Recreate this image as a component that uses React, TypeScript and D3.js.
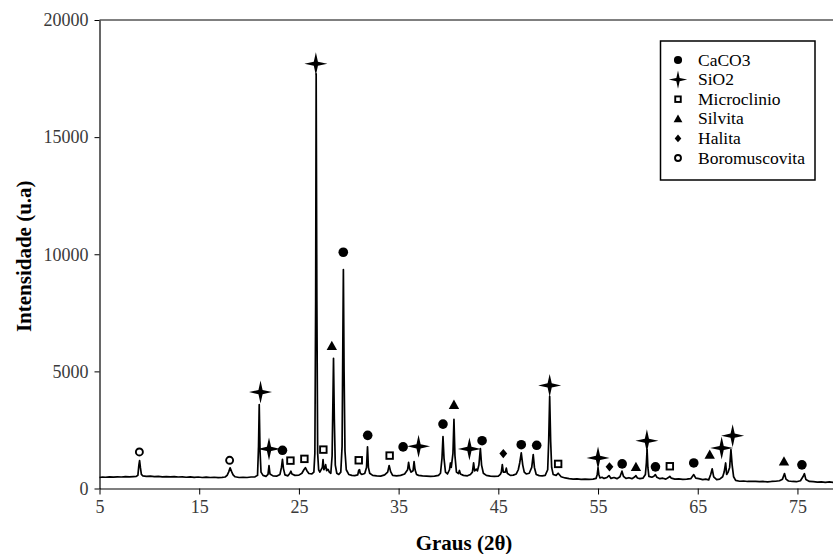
import { useEffect, useRef } from "react";
import * as d3 from "d3";

// difratograma: [2θ, intensidade]
const pattern: [number, number][] = [
  [5, 470], [5.3, 490], [5.6, 480], [6, 495], [6.4, 485], [6.8, 500], [7.2, 490], [7.6, 505], [8, 495], [8.4, 510], [8.7, 520],
  [8.85, 560], [8.95, 1000], [9.02, 1190], [9.1, 900], [9.2, 600], [9.35, 540],
  [9.7, 520], [10.1, 530], [10.5, 510], [10.9, 520], [11.3, 500], [11.7, 510], [12.1, 495], [12.5, 505], [12.9, 490], [13.3, 500],
  [13.7, 480], [14.1, 495], [14.5, 475], [14.9, 490], [15.3, 470], [15.7, 485], [16.1, 470], [16.5, 480], [16.9, 465], [17.3, 475], [17.6, 490],
  [17.8, 560], [17.95, 700], [18.1, 880], [18.25, 720], [18.4, 580], [18.6, 500],
  [19, 470], [19.4, 480], [19.8, 470], [20.2, 490], [20.6, 500], [20.85, 560],
  [20.95, 1800], [21.02, 3580], [21.1, 1600], [21.2, 700], [21.4, 560], [21.7, 520],
  [21.9, 600], [22.0, 980], [22.1, 620], [22.4, 540], [22.8, 530], [23.1, 600],
  [23.25, 900], [23.35, 1240], [23.45, 850], [23.6, 580], [23.9, 540],
  [24.1, 650], [24.2, 740], [24.3, 620], [24.6, 560], [25, 570], [25.3, 650],
  [25.5, 800], [25.65, 890], [25.8, 760], [26.0, 640], [26.3, 620], [26.5, 700],
  [26.6, 1500], [26.68, 8000], [26.73, 17700], [26.8, 8000], [26.88, 1500], [26.98, 800],
  [27.1, 700], [27.35, 900], [27.42, 1230], [27.5, 800], [27.6, 880], [27.68, 1020], [27.78, 760], [27.88, 820], [27.95, 800], [28.05, 700], [28.2, 650],
  [28.33, 1400], [28.42, 4000], [28.47, 5560], [28.55, 3000], [28.65, 1000], [28.8, 650], [29.0, 600], [29.2, 700],
  [29.33, 1800], [29.41, 6500], [29.46, 9350], [29.53, 5000], [29.62, 1600], [29.75, 800], [30, 600], [30.3, 560], [30.6, 550], [30.9, 580],
  [31.0, 780], [31.08, 800], [31.15, 650], [31.3, 600], [31.6, 640],
  [31.78, 900], [31.88, 1780], [31.97, 900], [32.1, 650], [32.4, 560], [32.8, 540], [33.2, 530], [33.6, 580],
  [33.9, 700], [34.05, 980], [34.2, 720], [34.4, 560], [34.8, 540], [35.2, 560], [35.6, 620],
  [35.9, 800], [36.0, 1120], [36.1, 850], [36.25, 700], [36.45, 760], [36.55, 1150], [36.65, 800], [36.8, 600], [37.0, 560],
  [37.4, 540], [37.8, 530], [38.2, 520], [38.6, 530], [39.0, 560], [39.2, 650],
  [39.35, 1300], [39.45, 2220], [39.55, 1300], [39.7, 700], [39.9, 620],
  [40.1, 800], [40.2, 1090], [40.28, 900],
  [40.45, 1500], [40.55, 2950], [40.65, 1400], [40.8, 700], [41.0, 640], [41.1, 770], [41.2, 620], [41.5, 560], [41.9, 540], [42.2, 600],
  [42.4, 700], [42.52, 1100], [42.62, 750], [42.8, 830], [42.9, 750], [43.05, 1000], [43.2, 1700], [43.32, 1000], [43.5, 650],
  [43.8, 560], [44.2, 530], [44.6, 520], [45.0, 530], [45.2, 600],
  [45.3, 700], [45.4, 1020], [45.5, 700], [45.7, 700], [45.8, 870], [45.9, 650], [46.2, 560], [46.5, 570], [46.8, 620],
  [47.0, 800], [47.15, 1100], [47.3, 1520], [47.45, 1000], [47.6, 700], [47.8, 620], [48.1, 650], [48.35, 900], [48.5, 1445], [48.62, 900],
  [48.8, 600], [49.1, 550], [49.4, 540], [49.7, 560], [49.95, 800],
  [50.05, 2000], [50.15, 3930], [50.25, 2000], [50.35, 900], [50.5, 600], [50.8, 560], [51.0, 650], [51.3, 500], [51.7, 450],
  [52.1, 420], [52.5, 400], [52.9, 410], [53.3, 390], [53.7, 400], [54.1, 390], [54.5, 400], [54.8, 430],
  [54.92, 600], [55.0, 880], [55.08, 600], [55.2, 450], [55.4, 480], [55.6, 430], [55.9, 470], [56.1, 550], [56.3, 430],
  [56.6, 470], [56.9, 420], [57.2, 500], [57.4, 740], [57.55, 520], [57.8, 430], [58.1, 460], [58.4, 420], [58.7, 500],
  [58.8, 550], [58.95, 450], [59.2, 420], [59.5, 440], [59.75, 600],
  [59.85, 1100], [59.92, 1660], [60.0, 900], [60.1, 520], [60.4, 480], [60.6, 520], [60.75, 595], [60.9, 480],
  [61.2, 420], [61.5, 440], [61.8, 400], [62.1, 480], [62.2, 520], [62.35, 440], [62.7, 400], [63.1, 410], [63.5, 390],
  [63.9, 400], [64.3, 420], [64.6, 595], [64.8, 440], [65.1, 420], [65.5, 380], [65.8, 400], [66.1, 370],
  [66.3, 600], [66.45, 840], [66.6, 500], [66.9, 380], [67.2, 400], [67.5, 500], [67.65, 700], [67.8, 1090], [67.9, 600],
  [68.05, 700], [68.2, 900], [68.33, 1660], [68.45, 1000], [68.6, 500], [68.8, 350],
  [69.2, 310], [69.6, 320], [70.0, 300], [70.4, 310], [70.8, 300], [71.2, 290], [71.6, 300], [72.0, 280], [72.4, 300],
  [72.8, 310], [73.2, 330], [73.5, 400], [73.7, 640], [73.85, 400], [74.1, 320], [74.5, 300], [74.9, 290],
  [75.3, 330], [75.55, 500], [75.7, 630], [75.85, 380], [76.2, 300], [76.6, 290], [77, 270], [77.4, 285],
  [77.8, 265], [78.2, 280], [78.6, 260], [79, 270], [79.5, 260], [80, 270],
];

// marcadores das fases [2θ, intensidade]
const caco3: [number, number][] = [
  [23.35, 1630], [29.45, 10085], [31.9, 2270], [35.45, 1775], [39.45, 2750], [43.37, 2040],
  [47.3, 1870], [48.85, 1845], [57.42, 1050], [60.76, 925], [64.6, 1090], [75.45, 1010],
];
const sio2: [number, number][] = [
  [26.7, 18130], [21.15, 4115], [22.0, 1690], [37.0, 1800], [42.1, 1690], [50.15, 4400],
  [55.0, 1305], [59.9, 2040], [67.4, 1730], [68.5, 2255],
];
const microclinio: [number, number][] = [
  [24.15, 1190], [25.55, 1265], [27.45, 1660], [31.0, 1205], [34.1, 1405], [51.0, 1050], [62.2, 950],
];
const silvita: [number, number][] = [
  [28.3, 6085], [40.55, 3575], [58.8, 925], [66.2, 1445], [73.65, 1160],
];
const halita: [number, number][] = [[45.5, 1490], [56.15, 925]];
const boromuscovita: [number, number][] = [[9.0, 1560], [18.05, 1205]];

const legendNames = ["CaCO3", "SiO2", "Microclinio", "Silvita", "Halita", "Boromuscovita"];
const xTicks = [5, 15, 25, 35, 45, 55, 65, 75];
const yTicks = [0, 5000, 10000, 15000, 20000];

const font = "'Liberation Serif', 'Times New Roman', serif";

const starPath = (s: number) => {
  const w = s * 0.18;
  return `M0,${-s}L${w},${-w}L${s},0L${w},${w}L0,${s}L${-w},${w}L${-s},0L${-w},${-w}Z`;
};

// desenha um marcador da fase na posição (x, y) em pixels
const drawMarker = (g: any, kind: string, x: number, y: number, scale = 1) => {
  if (kind === "CaCO3") {
    g.append("circle").attr("cx", x).attr("cy", y).attr("r", 4.8 * scale).attr("fill", "#000");
  } else if (kind === "SiO2") {
    g.append("path").attr("d", starPath(11.5 * scale)).attr("transform", `translate(${x},${y})`).attr("fill", "#000");
  } else if (kind === "Microclinio") {
    const s = 6.5 * scale;
    g.append("rect").attr("x", x - s / 2).attr("y", y - s / 2).attr("width", s).attr("height", s)
      .attr("fill", "#fff").attr("stroke", "#000").attr("stroke-width", 1.9);
  } else if (kind === "Silvita") {
    const s = 5.2 * scale;
    g.append("path").attr("d", `M${x},${y - s}L${x + s},${y + s * 0.8}L${x - s},${y + s * 0.8}Z`).attr("fill", "#000");
  } else if (kind === "Halita") {
    const s = 4.6 * scale;
    g.append("path").attr("d", `M${x},${y - s}L${x + s * 0.85},${y}L${x},${y + s}L${x - s * 0.85},${y}Z`).attr("fill", "#000");
  } else {
    g.append("circle").attr("cx", x).attr("cy", y).attr("r", 3.5 * scale)
      .attr("fill", "#fff").attr("stroke", "#000").attr("stroke-width", 1.9);
  }
};

const App = () => {
  const svgRef = useRef<SVGSVGElement>(null);
  const width = 833;
  const height = 554;

  useEffect(() => {
    const svg = d3.select(svgRef.current);
    svg.selectAll("*").remove();

    const x = d3.scaleLinear().domain([5, 80]).range([99.5, 847.3]);
    const y = d3.scaleLinear().domain([0, 20000]).range([488.5, 20]);

    svg.append("rect").attr("width", width).attr("height", height).attr("fill", "#fff");

    // linha superior (20000)
    svg.append("line")
      .attr("x1", x(5)).attr("x2", width).attr("y1", y(20000)).attr("y2", y(20000))
      .attr("stroke", "#000").attr("stroke-width", 1);

    // eixo y
    const yAxis = svg.append("g")
      .attr("transform", `translate(${x(5)},0)`)
      .call(d3.axisLeft(y).tickValues(yTicks).tickSize(5).tickSizeOuter(0).tickFormat(d3.format("d")));
    yAxis.select(".domain").attr("stroke", "#000").attr("stroke-width", 1.2);
    yAxis.selectAll("line").attr("stroke", "#000");
    yAxis.selectAll("text").attr("font-family", font).attr("font-size", 18).attr("fill", "#3a3a3a").attr("x", -11);

    // eixo x
    const xAxis = svg.append("g")
      .attr("transform", `translate(0,${y(0)})`)
      .call(d3.axisBottom(x).tickValues(xTicks).tickSize(6).tickSizeOuter(0).tickFormat(d3.format("d")));
    xAxis.select(".domain").attr("stroke", "#000").attr("stroke-width", 1.2);
    xAxis.selectAll("line").attr("stroke", "#000");
    xAxis.selectAll("text").attr("font-family", font).attr("font-size", 18).attr("fill", "#3a3a3a").attr("y", 12);

    // títulos dos eixos
    svg.append("text")
      .attr("transform", `translate(31,${(y(0) + y(20000)) / 2 + 2}) rotate(-90)`)
      .attr("text-anchor", "middle")
      .attr("font-family", font).attr("font-size", 21).attr("font-weight", "bold")
      .text("Intensidade (u.a)");
    svg.append("text")
      .attr("x", 464).attr("y", 550)
      .attr("text-anchor", "middle")
      .attr("font-family", font).attr("font-size", 21).attr("font-weight", "bold")
      .text("Graus (2θ)");

    // difratograma
    const line = d3.line<[number, number]>().x(d => x(d[0])).y(d => y(d[1]));
    svg.append("path")
      .datum(pattern)
      .attr("d", line)
      .attr("fill", "none")
      .attr("stroke", "#000")
      .attr("stroke-width", 1.7)
      .attr("stroke-linejoin", "round");

    // marcadores
    const series: [string, [number, number][]][] = [
      ["CaCO3", caco3], ["SiO2", sio2], ["Microclinio", microclinio],
      ["Silvita", silvita], ["Halita", halita], ["Boromuscovita", boromuscovita],
    ];
    const markers = svg.append("g");
    series.forEach(([name, pts]) => {
      pts.forEach(p => drawMarker(markers, name, x(p[0]), y(p[1])));
    });

    // legenda
    const legend = svg.append("g");
    legend.append("rect")
      .attr("x", 660.5).attr("y", 41).attr("width", 154.5).attr("height", 139)
      .attr("fill", "#fff").attr("stroke", "#000").attr("stroke-width", 1.5);
    legendNames.forEach((name, i) => {
      const cy = 60 + i * 19.6;
      drawMarker(legend, name, 678, cy, name === "SiO2" ? 0.8 : 0.85);
      legend.append("text")
        .attr("x", 698).attr("y", cy + 5.5)
        .attr("font-family", font).attr("font-size", 17.5).attr("fill", "#000")
        .text(name);
    });
  }, []);

  return (
    <svg ref={svgRef} width={width} height={height}
      style={{ position: "absolute", left: 0, top: 0, display: "block" }} />
  );
};

export default App;
